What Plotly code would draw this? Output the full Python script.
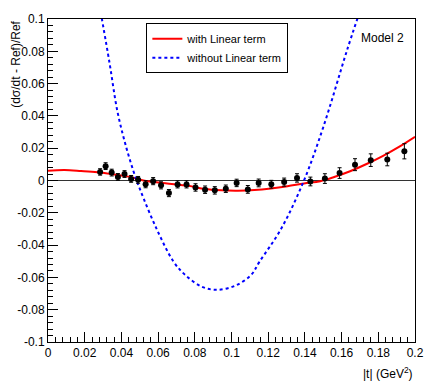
import plotly.graph_objects as go

# measured points (|t|, relative deviation, error)
t_data = [0.0284, 0.0314, 0.0347, 0.0381, 0.0417, 0.0453, 0.0491, 0.0532, 0.0573, 0.0616,
          0.0659, 0.0706, 0.0755, 0.0804, 0.0856, 0.0909, 0.0969, 0.1028, 0.1089, 0.1148,
          0.1217, 0.1287, 0.1357, 0.1430, 0.1509, 0.1589, 0.1673, 0.1759, 0.1849, 0.1942]
dev_data = [0.0053, 0.0089, 0.0049, 0.0022, 0.0040, 0.0010, 0.0004, -0.0023, -0.0004, -0.0030,
            -0.0078, -0.0024, -0.0024, -0.0043, -0.0057, -0.0061, -0.0051, -0.0015, -0.0055, -0.0015,
            -0.0023, -0.0010, 0.0016, -0.0006, 0.0012, 0.0046, 0.0098, 0.0126, 0.0130, 0.0181]
err_data = [0.0020, 0.0021, 0.0021, 0.0021, 0.0021, 0.0021, 0.0021, 0.0022, 0.0022, 0.0022,
            0.0022, 0.0022, 0.0022, 0.0023, 0.0023, 0.0023, 0.0023, 0.0023, 0.0024, 0.0024,
            0.0024, 0.0025, 0.0026, 0.0027, 0.0030, 0.0033, 0.0037, 0.0039, 0.0039, 0.0047]

# fit "with Linear term"
t_lin = [0.0, 0.009, 0.018, 0.027, 0.036, 0.045, 0.052, 0.064, 0.0765, 0.0855, 0.0945,
         0.1035, 0.1125, 0.1215, 0.1305, 0.1395, 0.1484, 0.1556, 0.1646, 0.1736, 0.1826,
         0.1915, 0.2]
y_lin = [0.0061, 0.0065, 0.0059, 0.0051, 0.0037, 0.0022, 0.0, -0.0017, -0.0033, -0.0053, -0.0061,
         -0.0063, -0.0059, -0.0049, -0.0035, -0.0018, -0.0004, 0.0020, 0.0057, 0.0102, 0.0153,
         0.0210, 0.0271]

# fit "without Linear term"
t_nolin = [0.0293, 0.0335, 0.0379, 0.0428, 0.0478, 0.0505, 0.0588, 0.0685, 0.0748, 0.0837,
           0.0918, 0.1017, 0.1107, 0.1152, 0.127, 0.1395, 0.150, 0.1628, 0.1687]
y_nolin = [0.1005, 0.0730, 0.0424, 0.0199, 0.0016, -0.0065, -0.0290, -0.0504, -0.0585, -0.0657,
           -0.0677, -0.0653, -0.0585, -0.0504, -0.0300, 0.0, 0.0330, 0.0801, 0.1005]

x_ticks = [0, 0.02, 0.04, 0.06, 0.08, 0.1, 0.12, 0.14, 0.16, 0.18, 0.2]
x_ticktext = ["0", "0.02", "0.04", "0.06", "0.08", "0.1", "0.12", "0.14", "0.16", "0.18", "0.2"]
y_ticks = [-0.1, -0.08, -0.06, -0.04, -0.02, 0, 0.02, 0.04, 0.06, 0.08, 0.1]
y_ticktext = ["-0.1", "-0.08", "-0.06", "-0.04", "-0.02", "0", "0.02", "0.04", "0.06", "0.08", "0.1"]

FONT = "Liberation Sans, Arial, Helvetica, sans-serif"

fig = go.Figure()

fig.add_trace(go.Scatter(
    x=t_lin, y=y_lin, mode="lines", line=dict(color="#ff0000", width=2, shape="spline"),
    name="with Linear term"))
fig.add_trace(go.Scatter(
    x=t_nolin, y=y_nolin, mode="lines", line=dict(color="#0000ff", width=2, dash="dot", shape="spline"),
    name="without Linear term"))
fig.add_trace(go.Scatter(
    x=t_data, y=dev_data, mode="markers", marker=dict(color="black", size=6),
    error_y=dict(type="data", array=err_data, color="black", thickness=1, width=2),
    showlegend=False))

axis_common = dict(
    showline=True, linecolor="black", linewidth=1, mirror=True,
    ticks="inside", ticklen=10, tickcolor="black",
    showgrid=False,
    tickfont=dict(family=FONT, size=12, color="black"),
)

fig.update_xaxes(range=[0, 0.2], tickvals=x_ticks, ticktext=x_ticktext,
                 minor=dict(ticks="inside", ticklen=5, dtick=0.004, tick0=0, tickcolor="black"),
                 zeroline=False, **axis_common)
fig.update_yaxes(range=[-0.1, 0.1], tickvals=y_ticks, ticktext=y_ticktext,
                 minor=dict(ticks="inside", ticklen=5, dtick=0.004, tick0=0, tickcolor="black"),
                 zeroline=True, zerolinecolor="#333333", zerolinewidth=1, **axis_common)

fig.add_annotation(text="(dσ/dt - Ref)/Ref", xref="paper", yref="paper", x=-0.089, y=1.0,
                   xanchor="center", yanchor="top", textangle=-90, showarrow=False,
                   font=dict(family=FONT, size=12, color="black"))
fig.add_annotation(text="|t| (GeV<sup>2</sup>)", xref="paper", yref="paper", x=1.0, y=-0.095,
                   xanchor="right", yanchor="middle", showarrow=False,
                   font=dict(family=FONT, size=12, color="black"))
fig.add_annotation(text="Model 2", xref="paper", yref="paper", x=0.848, y=0.942,
                   xanchor="left", yanchor="middle", showarrow=False,
                   font=dict(family=FONT, size=12, color="black"))

fig.update_layout(
    width=436, height=382,
    margin=dict(l=48, r=18, t=15, b=40),
    paper_bgcolor="white", plot_bgcolor="white",
    font=dict(family=FONT, size=11, color="black"),
    legend=dict(x=0.268, y=0.987, xanchor="left", yanchor="top",
                bordercolor="black", borderwidth=1, bgcolor="white",
                font=dict(family=FONT, size=11), tracegroupgap=0),
)

fig.write_html("out.html", config={"displayModeBar": False},
               post_script="document.body.style.margin='0';")
